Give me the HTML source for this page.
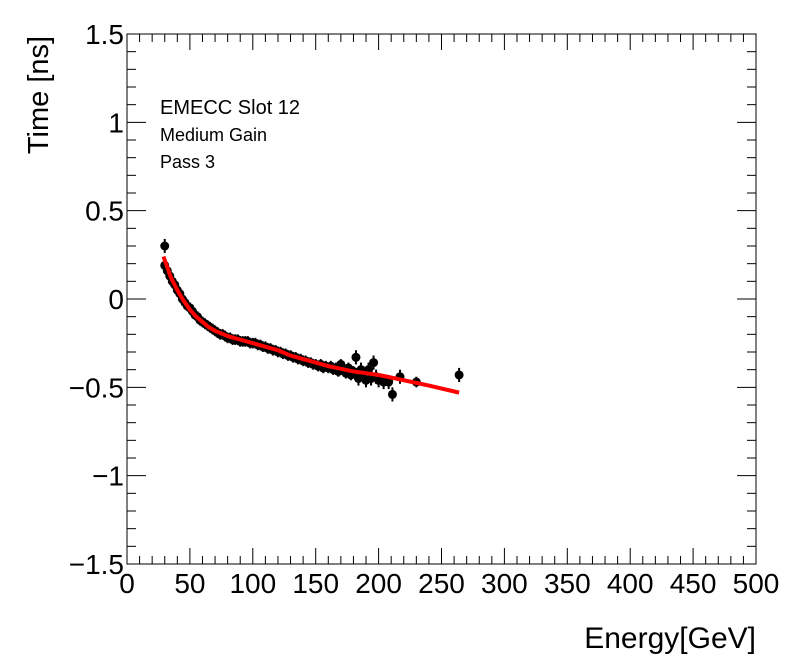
<!DOCTYPE html>
<html><head><meta charset="utf-8"><style>
body{margin:0;background:#fff}
svg{display:block;font-family:"Liberation Sans",sans-serif}
</style></head><body>
<svg id="chart" width="796" height="672" xmlns="http://www.w3.org/2000/svg">
<rect x="0" y="0" width="796" height="672" fill="#fff"/>
<g id="ticks"></g>
<g id="marks"></g>
<polyline id="fit" fill="none" stroke="#ff0000" stroke-width="4"/>
<rect x="127" y="34" width="629" height="530" fill="none" stroke="#000" stroke-width="1"/>
<text x="160" y="114" font-size="20">EMECC Slot 12</text>
<text x="160" y="141" font-size="18">Medium Gain</text>
<text x="160" y="168" font-size="18">Pass 3</text>
<text transform="translate(48,95) rotate(-90)" text-anchor="middle" font-size="29">Time [ns]</text>
<text x="756" y="648" text-anchor="end" font-size="30">Energy[GeV]</text>
</svg>
<script>
const energies=[30,32,34,36,38,40,42,44,46,48,50,52,54,56,58,60,62,64,66,68,70,72,74,76,78,80,82,84,86,88,90,92,94,96,98,100,102,104,106,108,110,112,114,116,118,120,122,124,126,128,130,132,134,136,138,140,142,144,146,148,150,152,154,156,158,160,162,164,166,168,170,172,174,176,178,180,182,184,186,188,190,192,194,196,198,200,204,208,211,217,230,264,30];
const times=[0.19,0.16,0.13,0.1,0.08,0.05,0.03,0.0,-0.02,-0.04,-0.05,-0.07,-0.09,-0.1,-0.12,-0.13,-0.14,-0.15,-0.16,-0.17,-0.18,-0.19,-0.2,-0.2,-0.21,-0.22,-0.22,-0.23,-0.23,-0.23,-0.24,-0.24,-0.24,-0.24,-0.25,-0.25,-0.25,-0.26,-0.26,-0.27,-0.27,-0.28,-0.28,-0.29,-0.29,-0.3,-0.3,-0.31,-0.31,-0.32,-0.32,-0.33,-0.33,-0.34,-0.34,-0.35,-0.35,-0.36,-0.36,-0.37,-0.37,-0.38,-0.37,-0.39,-0.38,-0.39,-0.38,-0.4,-0.39,-0.41,-0.37,-0.4,-0.42,-0.39,-0.43,-0.41,-0.33,-0.45,-0.4,-0.42,-0.46,-0.4,-0.45,-0.36,-0.44,-0.46,-0.47,-0.47,-0.54,-0.44,-0.47,-0.43,0.3];
const errors=[0.03,0.03,0.03,0.03,0.03,0.03,0.03,0.03,0.03,0.03,0.03,0.03,0.03,0.03,0.03,0.03,0.03,0.03,0.03,0.03,0.03,0.03,0.03,0.03,0.03,0.03,0.03,0.03,0.03,0.03,0.03,0.03,0.03,0.03,0.03,0.03,0.03,0.03,0.03,0.03,0.03,0.03,0.03,0.03,0.03,0.03,0.03,0.03,0.03,0.03,0.03,0.03,0.03,0.03,0.03,0.03,0.03,0.03,0.03,0.03,0.03,0.03,0.03,0.03,0.03,0.03,0.03,0.03,0.03,0.03,0.03,0.03,0.03,0.03,0.03,0.03,0.04,0.04,0.04,0.04,0.04,0.04,0.04,0.04,0.04,0.04,0.04,0.04,0.04,0.04,0.03,0.04,0.04];
const fitE=[29,35,40,45,50,55,60,65,70,80,90,100,110,120,130,140,150,160,170,180,190,200,220,240,264];
const fitT=[0.24,0.12,0.05,-0.01,-0.06,-0.1,-0.13,-0.16,-0.18,-0.21,-0.23,-0.25,-0.27,-0.29,-0.32,-0.34,-0.36,-0.38,-0.395,-0.41,-0.42,-0.43,-0.46,-0.49,-0.53];
const xTicks=[0,50,100,150,200,250,300,350,400,450,500];
const yTicks=[-1.5,-1,-0.5,0,0.5,1,1.5];
const yTickLabels=["\u22121.5","\u22121","\u22120.5","0","0.5","1","1.5"];

const L=127,R=756,T=34,B=564,NS="http://www.w3.org/2000/svg";
const xs=e=>L+(e/500)*(R-L);
const ys=v=>B-((v+1.5)/3)*(B-T);
function mk(tag,attrs,parent){const el=document.createElementNS(NS,tag);for(const k in attrs)el.setAttribute(k,attrs[k]);parent.appendChild(el);return el;}
const svg=document.getElementById('chart'),tk=document.getElementById('ticks'),mg=document.getElementById('marks');
for(let v=0;v<=500;v+=10){const x=xs(v),maj=v%50===0,len=maj?16:8;
 const a=mk('line',{x1:x,x2:x,y1:B,y2:B-len,stroke:'#000'},tk);
 
 
 const b=mk('line',{x1:x,x2:x,y1:T,y2:T+len,stroke:'#000'},tk);
 
 }
xTicks.forEach(v=>{const t=mk('text',{x:xs(v),y:593,'text-anchor':'middle','font-size':28},svg);t.textContent=v;
 
 });
for(let i=0;i<=30;i++){const v=-1.5+i*0.1,y=ys(v),maj=i%5===0,len=maj?19:9;
 const a=mk('line',{x1:L,x2:L+len,y1:y,y2:y,stroke:'#000'},tk);
 
 
 const b=mk('line',{x1:R,x2:R-len,y1:y,y2:y,stroke:'#000'},tk);
 
 }
yTicks.forEach((v,i)=>{const t=mk('text',{x:124,y:ys(v)+10,'text-anchor':'end','font-size':28},svg);t.textContent=yTickLabels[i];
 
 });
energies.forEach((e,i)=>{const x=xs(e),y=ys(times[i]);
 const l=mk('line',{x1:x,x2:x,y1:ys(times[i]+errors[i]),y2:ys(times[i]-errors[i]),stroke:'#000','stroke-width':2},mg);
 
 
 const c=mk('circle',{cx:x,cy:y,r:4.5,fill:'#000'},mg);
 
 });
document.getElementById('fit').setAttribute('points',fitE.map((e,i)=>xs(e)+','+ys(fitT[i])).join(' '));
</script>
</body></html>
